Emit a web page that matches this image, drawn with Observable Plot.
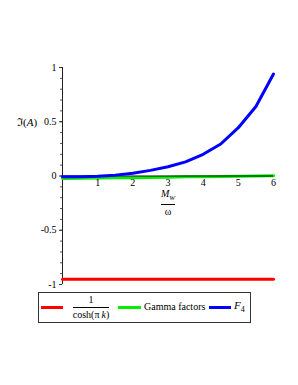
<!DOCTYPE html>
<html>
<head>
<meta charset="utf-8">
<script src="https://cdn.jsdelivr.net/npm/d3@7"></script>
<script src="https://cdn.jsdelivr.net/npm/@observablehq/plot@0.6"></script>
<style>
  html, body { margin: 0; padding: 0; background: #fff; }
  #wrap { position: relative; width: 298px; height: 385px; font-family: "Liberation Serif", "DejaVu Serif", serif; color: #000; }
  #chart svg { display: block; }
  .abs { position: absolute; white-space: nowrap; }
  .frac { display: inline-flex; flex-direction: column; align-items: center; line-height: 1; }
  .frac .bar { border-top: 1px solid #000; align-self: stretch; margin: 2px 0; }
  .sw { position: absolute; height: 3px; }
</style>
</head>
<body>
<div id="wrap">
  <div id="chart"></div>
</div>
<script>
// ---- data ----
const xs       = [0, 0.5, 1, 1.5, 2, 2.5, 3, 3.5, 4, 4.5, 5, 5.5, 6];
const f4       = [-0.006, -0.006, -0.002, 0.008, 0.026, 0.052, 0.085, 0.13, 0.2, 0.295, 0.445, 0.64, 0.94];
const gamma    = [-0.022, -0.021, -0.019, -0.017, -0.015, -0.013, -0.011, -0.008, -0.006, -0.004, -0.002, 0.0, 0.002];
const coshInv  = [-0.952, -0.952, -0.952, -0.952, -0.952, -0.952, -0.952, -0.952, -0.952, -0.952, -0.952, -0.952, -0.952];
const xTicks   = [1, 2, 3, 4, 5, 6];
const yTicks   = [-1, -0.5, 0, 0.5, 1];
const yMinor   = d3.range(-10, 11).map(i => i / 10);

const rows = xs.map((x, i) => ({x, f4: f4[i], gamma: gamma[i], cosh: coshInv[i]}));

const font = "Liberation Serif";

const plot = Plot.plot({
  width: 298,
  height: 290,
  marginLeft: 62,
  marginRight: 25,
  marginTop: 67,
  marginBottom: 6,
  style: {fontFamily: font, fontSize: "10px", background: "white", color: "#000"},
  x: {domain: [0, 6], axis: null},
  y: {domain: [-1, 1], axis: null},
  marks: [
    Plot.axisY(yMinor, {tickSize: 2, tickFormat: () => "", stroke: "#555", label: null}),
    Plot.axisY(yTicks, {tickSize: 3, tickPadding: 3, tickFormat: d => String(d), fontSize: 10, label: null, stroke: "#333"}),
    Plot.ruleX([0], {y1: -1, y2: 1, stroke: "#222", strokeWidth: 1}),
    Plot.line(rows, {x: "x", y: "cosh", stroke: "#ff0000", strokeWidth: 3}),
    Plot.line(rows, {x: "x", y: "gamma", stroke: "#00ee00", strokeWidth: 3}),
    Plot.ruleY([0], {x1: 0, x2: 6, stroke: "#111", strokeWidth: 1}),
    Plot.line(rows, {x: "x", y: "f4", stroke: "#0000ff", strokeWidth: 3}),
    Plot.text(xTicks, {x: d => d, y: 0, dy: 7, text: d => String(d), fontSize: 10, fill: "#000"})
  ]
});
document.getElementById("chart").appendChild(plot);

const wrap = document.getElementById("wrap");
function add(html) { wrap.insertAdjacentHTML("beforeend", html); }

// y-axis label
add(`<div class="abs" style="left:17px; top:114px; font-size:11px;">ℑ(<i>A</i>)</div>`);
// x-axis label fraction centered at x=168
add(`<div class="abs" style="left:148px; width:40px; top:188px; text-align:center; font-size:10px;">
  <span class="frac"><span><i>M</i><sub style="font-size:7px;"><i>W</i></sub></span><span class="bar"></span><span>ω</span></span></div>`);

// legend
add(`<div class="abs" style="left:38px; top:292px; width:211px; height:29px; border:1px solid #333;"></div>`);
add(`<div class="sw" style="left:41px; width:22px; top:306px; background:#ff0000;"></div>`);
add(`<div class="abs" style="left:66px; width:50px; top:294px; text-align:center; font-size:10px;">
  <span class="frac"><span>1</span><span class="bar"></span><span>cosh(π&#8201;<i>k</i>)</span></span></div>`);
add(`<div class="sw" style="left:118px; width:23px; top:306px; background:#00ee00;"></div>`);
add(`<div class="abs" style="left:144px; top:301px; font-size:10px;">Gamma factors</div>`);
add(`<div class="sw" style="left:209px; width:22px; top:306px; background:#0000ff;"></div>`);
add(`<div class="abs" style="left:234px; top:299px; font-size:11px;"><i>F</i><sub style="font-size:8px;">4</sub></div>`);
</script>
</body>
</html>
